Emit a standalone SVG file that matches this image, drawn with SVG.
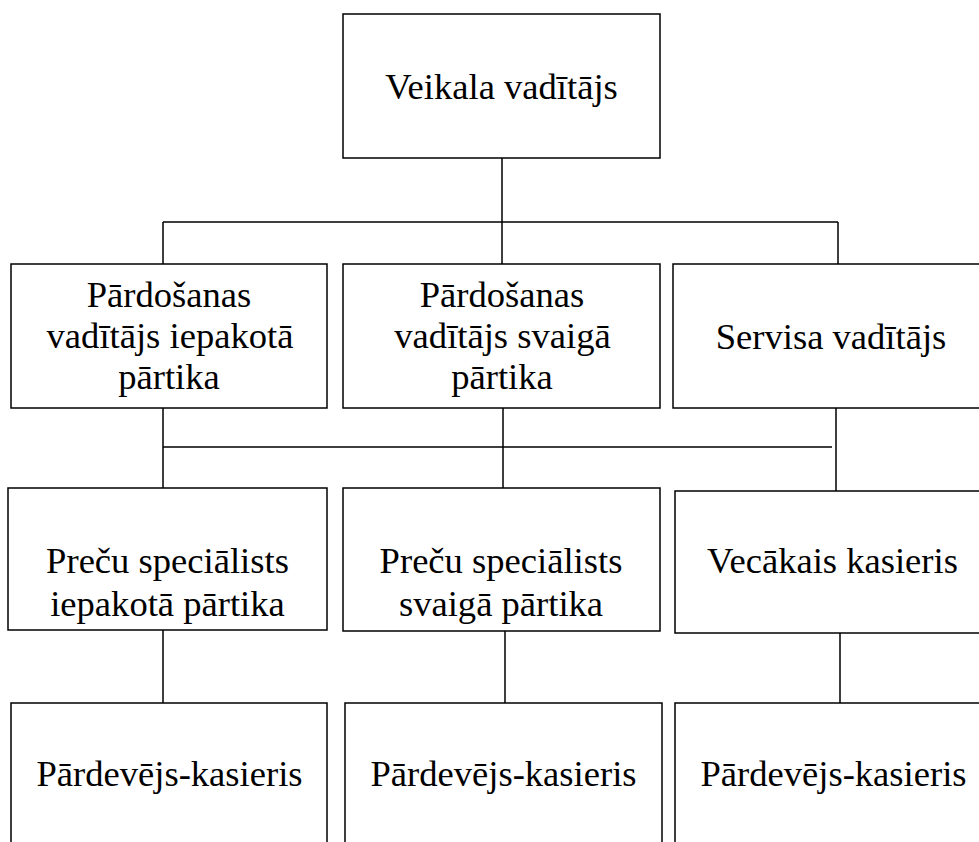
<svg xmlns="http://www.w3.org/2000/svg" width="979" height="842" viewBox="0 0 979 842">
<style>
.box{fill:#fff;stroke:#000;stroke-width:1.5}
.ln{stroke:#000;stroke-width:1.5;fill:none}
text{font-family:"Liberation Serif","Times New Roman",serif;font-size:36.6px;fill:#000;text-anchor:middle}
</style>
<rect width="979" height="842" fill="#fff"/>
<g id="connectors">
<path class="ln" d="M502,158V264M163,222H838M163,222V264M838,222V264"/>
<path class="ln" d="M163,447H832M163,408V488M503,408V488M836,408V491"/>
<path class="ln" d="M163,630V703M505,631V703M840,633V707"/>
</g>
<g id="n1"><rect class="box" x="343" y="14" width="317" height="144"/><text x="501.5" y="99">Veikala vadītājs</text></g>
<g id="n2"><rect class="box" x="11" y="264" width="316" height="144"/><text x="169" y="307">Pārdošanas</text><text x="170" y="348">vadītājs iepakotā</text><text x="169" y="389">pārtika</text></g>
<g id="n3"><rect class="box" x="343" y="264" width="317" height="144"/><text x="502" y="307">Pārdošanas</text><text x="502.5" y="348">vadītājs svaigā</text><text x="502" y="389">pārtika</text></g>
<g id="n4"><rect class="box" x="673" y="264" width="330" height="144"/><text x="831" y="349">Servisa vadītājs</text></g>
<g id="n5"><rect class="box" x="8" y="488" width="319" height="142"/><text x="167.5" y="573">Preču speciālists</text><text x="167.5" y="616">iepakotā pārtika</text></g>
<g id="n6"><rect class="box" x="343" y="488" width="317" height="143"/><text x="501" y="573">Preču speciālists</text><text x="501" y="616">svaigā pārtika</text></g>
<g id="n7"><rect class="box" x="675" y="491" width="330" height="142"/><text x="832.5" y="573">Vecākais kasieris</text></g>
<g id="n8"><rect class="box" x="11" y="703" width="316" height="160"/><text x="169.5" y="786">Pārdevējs-kasieris</text></g>
<g id="n9"><rect class="box" x="345" y="703" width="317" height="160"/><text x="503.5" y="786">Pārdevējs-kasieris</text></g>
<g id="n10"><rect class="box" x="675" y="703" width="330" height="160"/><text x="833.5" y="786">Pārdevējs-kasieris</text></g>
</svg>
